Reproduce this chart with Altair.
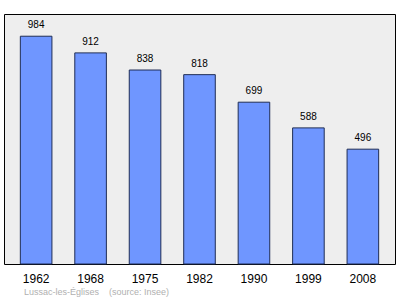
import altair as alt
import pandas as pd

years = ["1962", "1968", "1975", "1982", "1990", "1999", "2008"]
population = [984, 912, 838, 818, 699, 588, 496]

df = pd.DataFrame({"year": years, "pop": population})

x = alt.X("year:N", sort=years,
          scale=alt.Scale(paddingInner=0.42, paddingOuter=0.3),
          axis=alt.Axis(title=None, labelAngle=0, ticks=False, domain=False,
                        labelFontSize=12, labelPadding=9, labelColor="black",
                        labelFont="Liberation Sans"))
y = alt.Y("pop:Q", scale=alt.Scale(domain=[0, 1080], nice=False), axis=None)

base = alt.Chart(df)
bars = base.mark_bar(color="#6f96ff", stroke="#1f2d55", strokeWidth=1).encode(x=x, y=y)
labels = base.mark_text(dy=-11, fontSize=10, font="Liberation Sans", color="black").encode(
    x=x, y=y, text="pop:Q")

chart = (bars + labels).properties(
    width=391, height=250,
    title=alt.TitleParams("Lussac-les-Églises\u00a0\u00a0\u00a0\u00a0(source: Insee)", orient="bottom",
                          anchor="start", fontSize=9, fontWeight="normal",
                          color="#b0b0b0", font="Liberation Sans", dx=20, offset=4),
    autosize=alt.AutoSizeParams(type="none"),
    padding={"left": 4, "top": 14, "right": 5, "bottom": 35},
).configure_view(fill="#eeeeee", stroke="black", strokeWidth=1)

chart.save("out.html", embed_options={"renderer": "svg", "actions": False})
